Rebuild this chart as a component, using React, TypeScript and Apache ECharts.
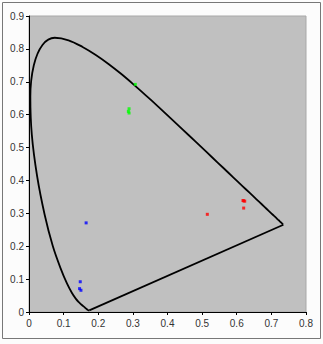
import React, { useEffect, useRef } from "react";
import * as echarts from "echarts";

// CIE 1931 spectral locus (380–700 nm, 5 nm steps)
const locusX = [
  0.1741, 0.174, 0.1738, 0.1736, 0.1733, 0.173, 0.1726, 0.1721, 0.1714, 0.1703,
  0.1689, 0.1669, 0.1644, 0.1611, 0.1566, 0.151, 0.144, 0.1355, 0.1241, 0.1096,
  0.0913, 0.0687, 0.0454, 0.0235, 0.0082, 0.0039, 0.0139, 0.0389, 0.0743, 0.1142,
  0.1547, 0.1929, 0.2296, 0.2658, 0.3016, 0.3373, 0.3731, 0.4087, 0.4441, 0.4788,
  0.5125, 0.5448, 0.5752, 0.6029, 0.627, 0.6482, 0.6658, 0.6801, 0.6915, 0.7006,
  0.7079, 0.714, 0.719, 0.723, 0.726, 0.7283, 0.73, 0.7311, 0.732, 0.7327,
  0.7334, 0.734, 0.7344, 0.7346, 0.7347,
];
const locusY = [
  0.005, 0.005, 0.0049, 0.0049, 0.0048, 0.0048, 0.0048, 0.0048, 0.0051, 0.0058,
  0.0069, 0.0086, 0.0109, 0.0138, 0.0177, 0.0227, 0.0297, 0.0399, 0.0578, 0.0868,
  0.1327, 0.2007, 0.295, 0.4127, 0.5384, 0.6548, 0.7502, 0.812, 0.8338, 0.8262,
  0.8059, 0.7816, 0.7543, 0.7243, 0.6923, 0.6589, 0.6245, 0.5896, 0.5547, 0.5202,
  0.4866, 0.4544, 0.4242, 0.3965, 0.3725, 0.3514, 0.334, 0.3197, 0.3083, 0.2993,
  0.292, 0.2859, 0.2809, 0.277, 0.274, 0.2717, 0.27, 0.2689, 0.268, 0.2673,
  0.2666, 0.266, 0.2656, 0.2654, 0.2653,
];

const redX = [0.515, 0.62, 0.623, 0.618, 0.62];
const redY = [0.297, 0.338, 0.337, 0.339, 0.316];
const greenX = [0.289, 0.289, 0.287, 0.307];
const greenY = [0.618, 0.605, 0.61, 0.692];
const blueX = [0.165, 0.148, 0.146, 0.15];
const blueY = [0.271, 0.092, 0.071, 0.066];

const xTicks = [0, 0.1, 0.2, 0.3, 0.4, 0.5, 0.6, 0.7, 0.8];
const yTicks = [0, 0.1, 0.2, 0.3, 0.4, 0.5, 0.6, 0.7, 0.8, 0.9];

const zip = (xs: number[], ys: number[]) => xs.map((x, i) => [x, ys[i]]);

export default function App() {
  const ref = useRef<HTMLDivElement>(null);
  useEffect(() => {
    if (!ref.current) return;
    const chart = echarts.init(ref.current, null, { renderer: "svg" });
    const font = "Arial, 'Liberation Sans', sans-serif";
    const last = locusX.length - 1;
    chart.setOption({
      animation: false,
      backgroundColor: "#FCFCFC",
      graphic: [
        {
          type: "rect",
          shape: { x: 2.5, y: 2.5, width: 318, height: 336 },
          style: { fill: "none", stroke: "#777", lineWidth: 1 },
          silent: true,
        },
      ],
      grid: {
        left: 29,
        right: 17,
        top: 16,
        bottom: 32,
        show: true,
        backgroundColor: "#C0C0C0",
        borderColor: "#A8A8A8",
        borderWidth: 1,
      },
      xAxis: {
        type: "value",
        min: xTicks[0],
        max: xTicks[xTicks.length - 1],
        interval: 0.1,
        splitLine: { show: false },
        axisLine: { show: true, lineStyle: { color: "#000", width: 1 } },
        axisTick: { show: true, length: 3, lineStyle: { color: "#000" } },
        axisLabel: { color: "#333", fontSize: 10, fontFamily: font, margin: 6 },
      },
      yAxis: {
        type: "value",
        min: yTicks[0],
        max: yTicks[yTicks.length - 1],
        interval: 0.1,
        splitLine: { show: false },
        axisLine: { show: true, lineStyle: { color: "#000", width: 1 } },
        axisTick: { show: true, length: 3, lineStyle: { color: "#000" } },
        axisLabel: { color: "#333", fontSize: 10, fontFamily: font, margin: 5 },
      },
      series: [
        {
          type: "line",
          data: zip(locusX, locusY),
          showSymbol: false,
          symbol: "none",
          smooth: 0.35,
          lineStyle: { color: "#000", width: 1.8 },
          z: 2,
        },
        {
          type: "line",
          data: [
            [locusX[last], locusY[last]],
            [locusX[0], locusY[0]],
          ],
          showSymbol: false,
          symbol: "none",
          lineStyle: { color: "#000", width: 1.8 },
          z: 2,
        },
        {
          type: "scatter",
          data: zip(redX, redY),
          symbol: "rect",
          symbolSize: 3,
          itemStyle: { color: "#FF0000" },
          z: 3,
        },
        {
          type: "scatter",
          data: zip(greenX, greenY),
          symbol: "rect",
          symbolSize: 3,
          itemStyle: { color: "#00FF00" },
          z: 3,
        },
        {
          type: "scatter",
          data: zip(blueX, blueY),
          symbol: "rect",
          symbolSize: 3,
          itemStyle: { color: "#0000FF" },
          z: 3,
        },
      ],
    });
    return () => chart.dispose();
  }, []);
  return (
    <div
      ref={ref}
      style={{ position: "absolute", left: 0, top: 0, width: 323, height: 344 }}
    />
  );
}
